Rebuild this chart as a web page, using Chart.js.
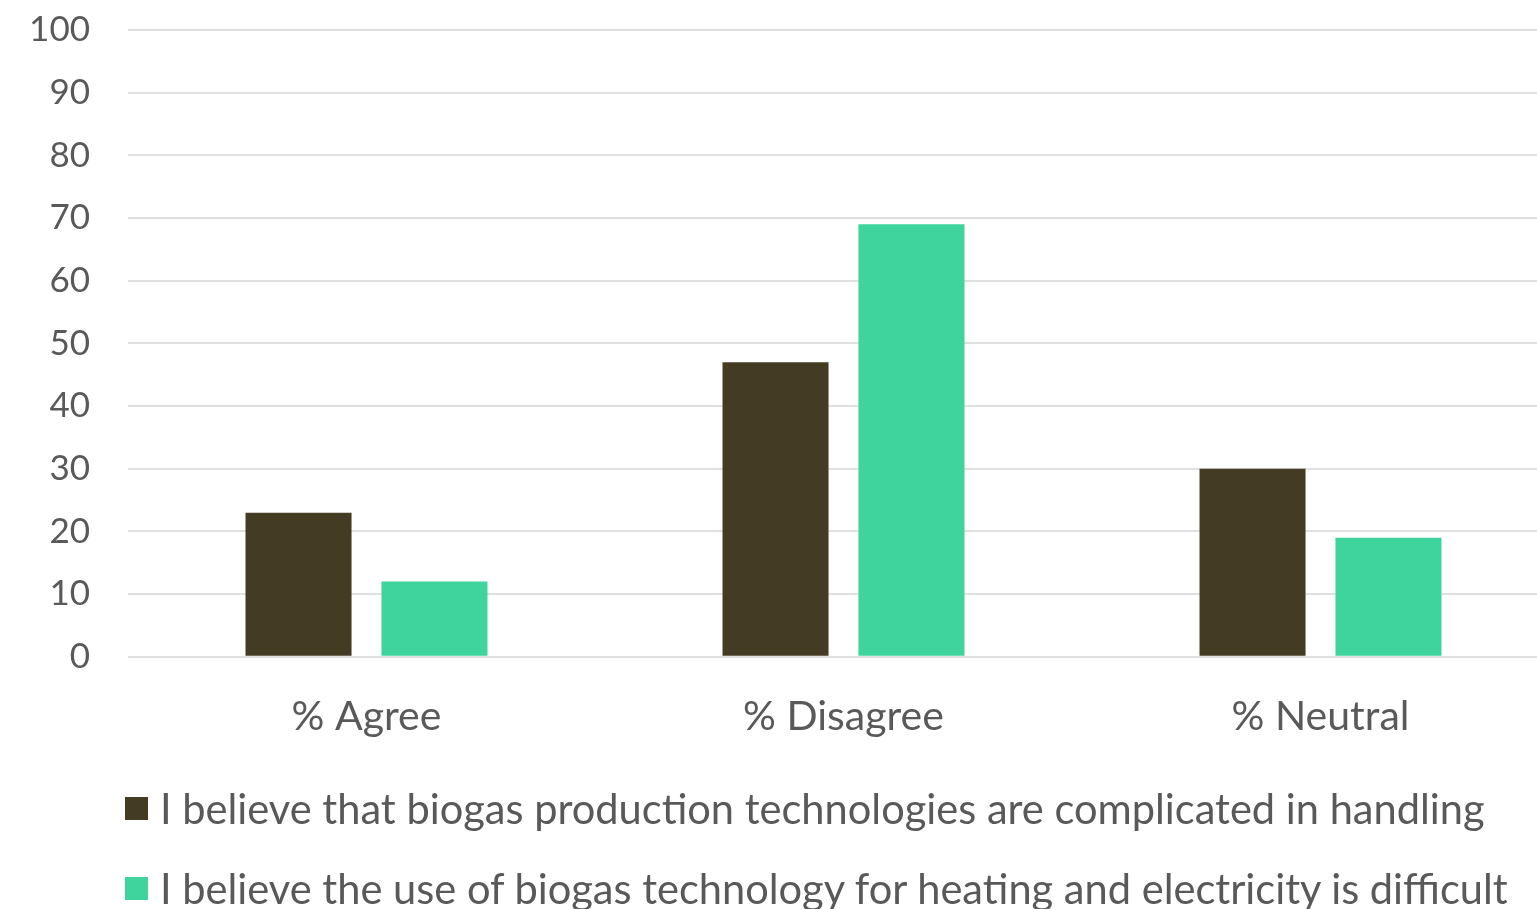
<!DOCTYPE html>
<html>
<head>
<meta charset="utf-8">
<script src="https://cdn.jsdelivr.net/npm/chart.js@4.4.1/dist/chart.umd.min.js"></script>
<style>
  html, body { margin: 0; padding: 0; background: #fff; overflow: hidden; }
  #wrap { position: absolute; left: 0; top: -29px; width: 1560px; height: 815px; }
  #legend { position: absolute; left: 125px; top: 784px; font-family: Lato, sans-serif; font-size: 41.6px; color: #595959; }
  #legend .item { display: flex; align-items: center; height: 48px; margin-bottom: 32px; white-space: nowrap; }
  #legend .box { width: 23px; height: 23px; margin-right: 12px; }
</style>
</head>
<body>
<div id="wrap"><canvas id="chart"></canvas></div>
<div id="legend"></div>
<script>
const categories = ["% Agree", "% Disagree", "% Neutral"];
const seriesNames = [
  "I believe that biogas production technologies are complicated in handling",
  "I believe the use of biogas technology for heating and electricity is difficult"
];
const complicatedValues = [23, 47, 30];
const difficultValues = [12, 69, 19];
const seriesColors = ["#433b22", "#3fd49d"];
const yTicks = [0, 10, 20, 30, 40, 50, 60, 70, 80, 90, 100];

const textColor = "#595959";
const gridColor = "#e0e0e0";

const ctx = document.getElementById("chart").getContext("2d");
const chart = new Chart(ctx, {
  type: "bar",
  data: {
    labels: categories,
    datasets: [
      { label: seriesNames[0], data: complicatedValues, backgroundColor: seriesColors[0] },
      { label: seriesNames[1], data: difficultValues, backgroundColor: seriesColors[1] }
    ]
  },
  options: {
    responsive: true,
    maintainAspectRatio: false,
    animation: false,
    categoryPercentage: 0.57,
    barPercentage: 0.78,
    layout: { padding: { top: 10, right: 1, bottom: 10, left: 0 } },
    plugins: {
      legend: { display: false },
      tooltip: { enabled: false }
    },
    scales: {
      x: {
        grid: { display: false, drawTicks: false },
        border: { display: false },
        ticks: { color: textColor, padding: 35, font: { family: "Lato", size: 41 } }
      },
      y: {
        min: 0,
        max: 100,
        afterFit: scale => { scale.width = 128; },
        afterBuildTicks: scale => { scale.ticks = yTicks.map(v => ({ value: v })); },
        grid: { color: gridColor, lineWidth: 2, drawTicks: false },
        border: { display: false },
        ticks: { color: textColor, padding: 38, font: { family: "Lato", size: 35 } }
      }
    }
  }
});

// legend below the plot, one row per series
const legendEl = document.getElementById("legend");
chart.data.datasets.forEach(ds => {
  const item = document.createElement("div");
  item.className = "item";
  item.innerHTML = `<span class="box" style="background:${ds.backgroundColor}"></span><span>${ds.label}</span>`;
  legendEl.appendChild(item);
});
</script>
</body>
</html>
